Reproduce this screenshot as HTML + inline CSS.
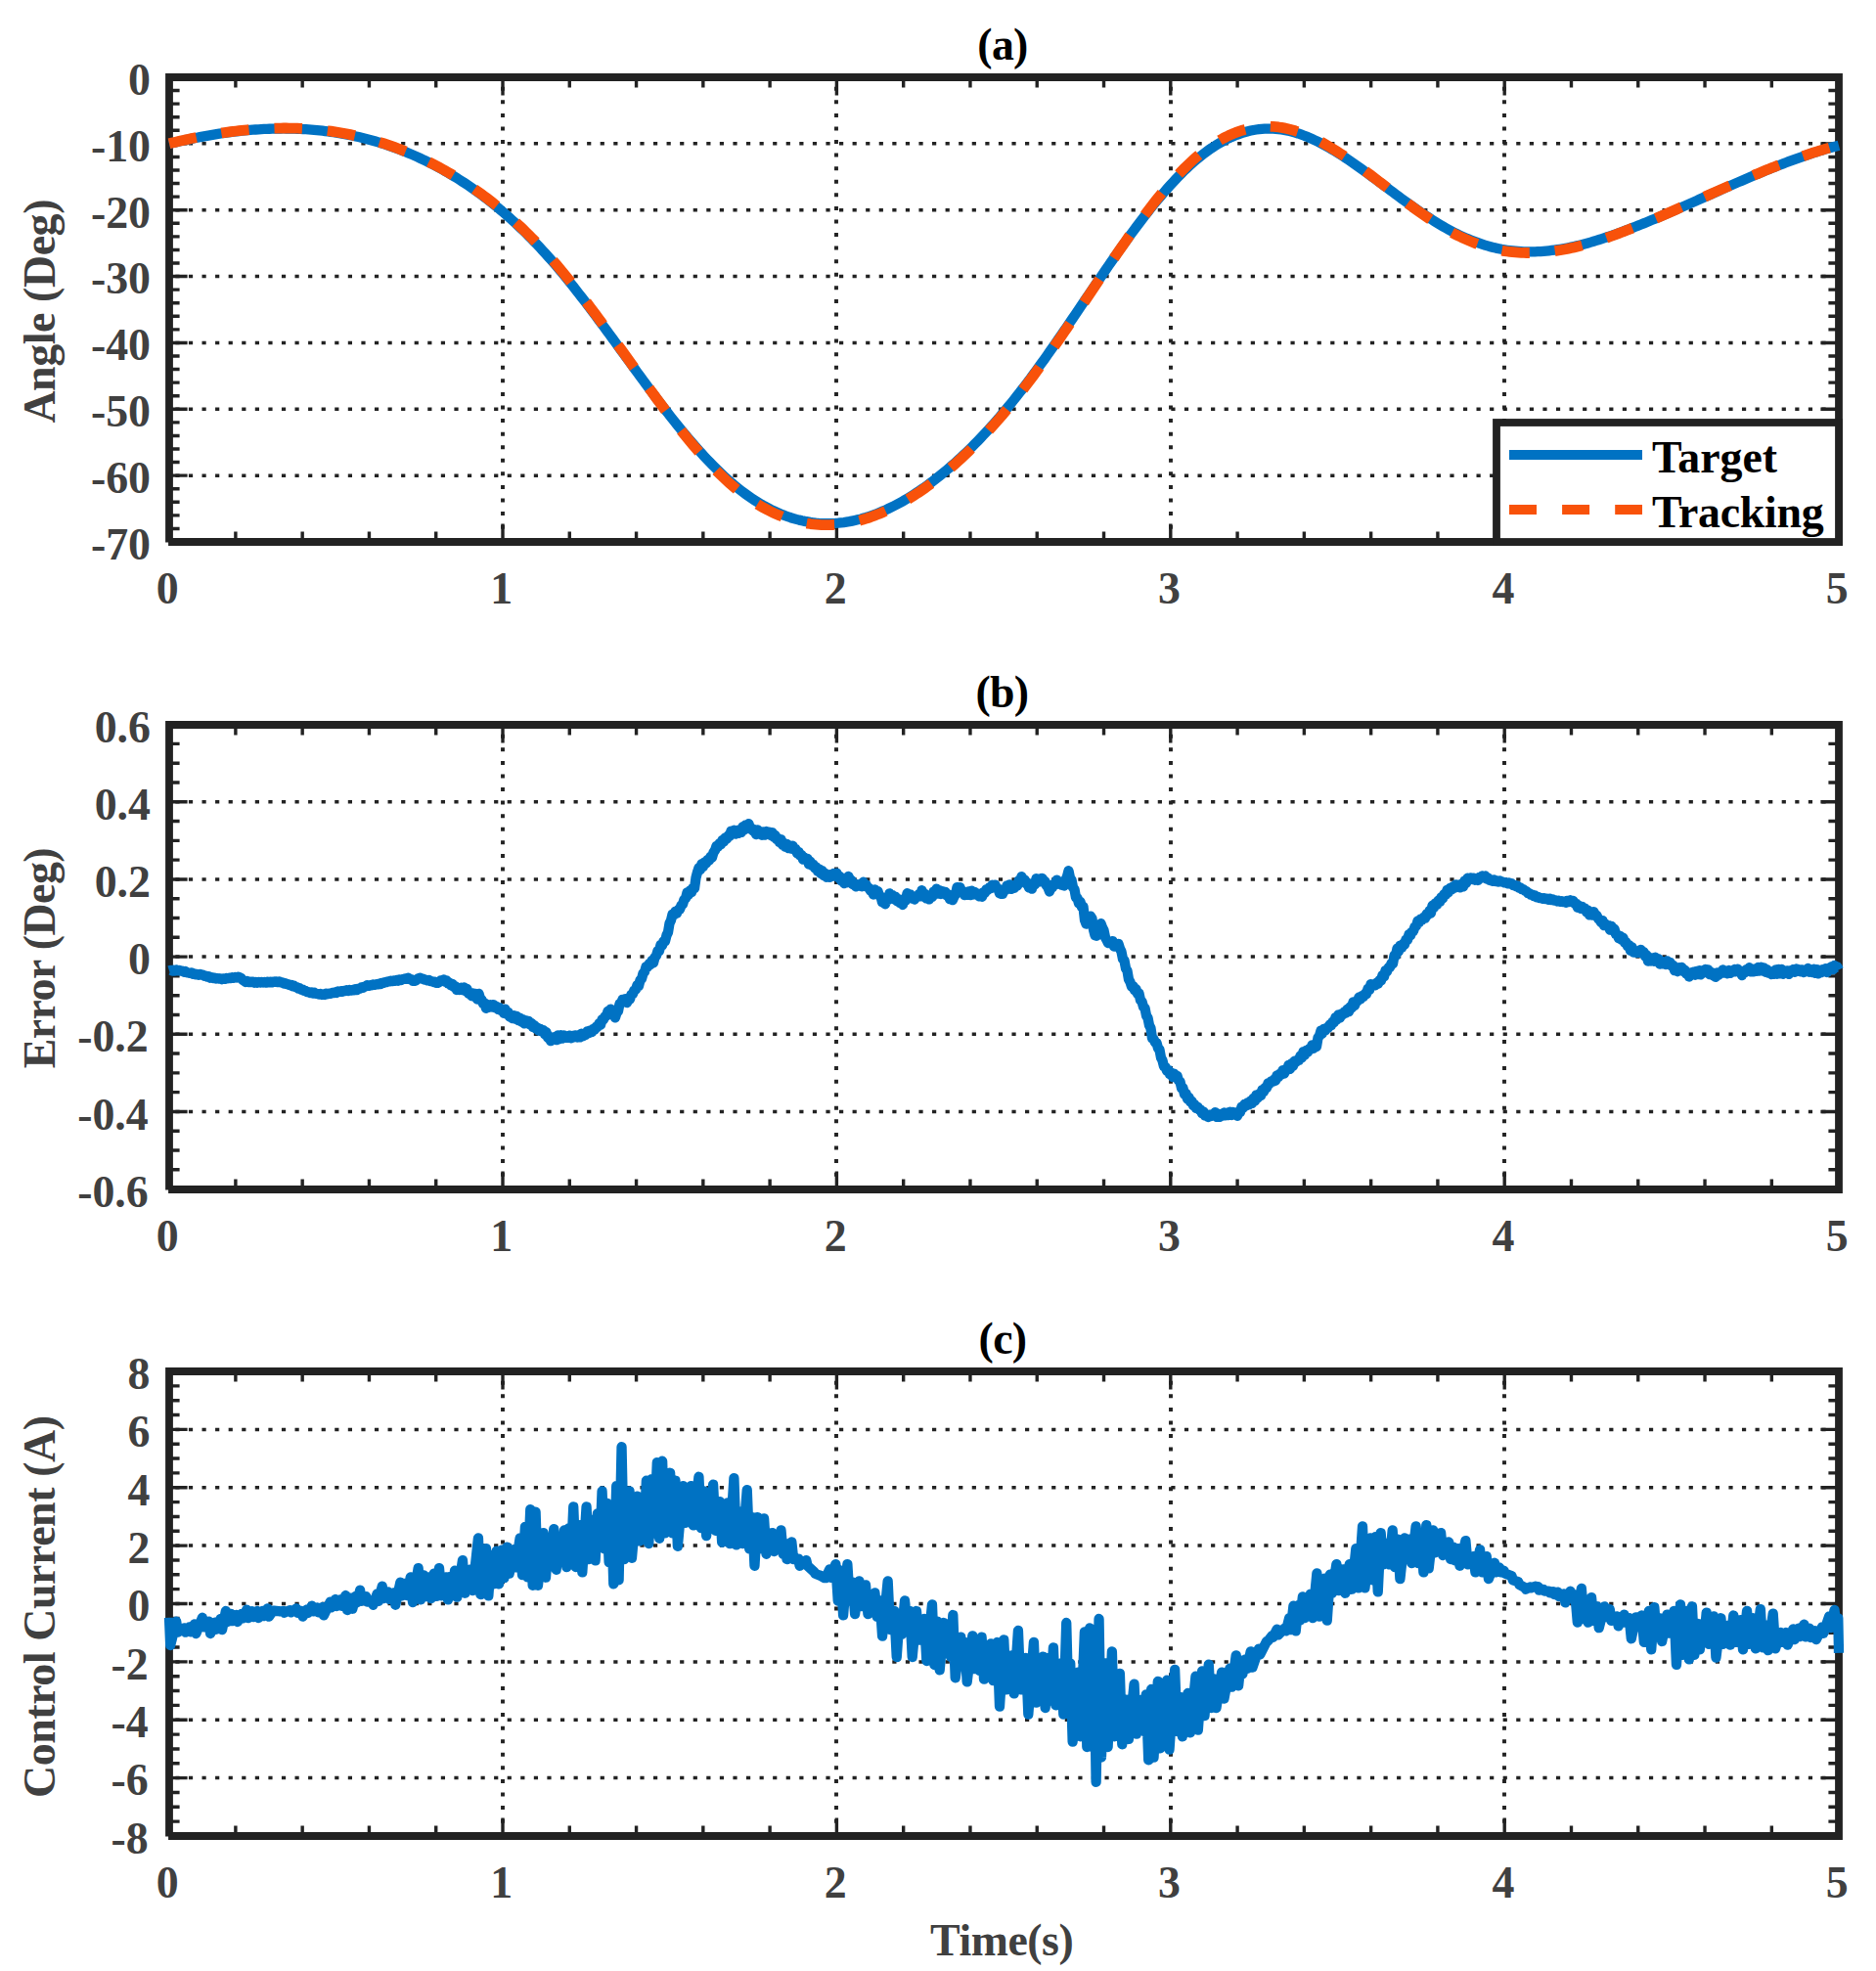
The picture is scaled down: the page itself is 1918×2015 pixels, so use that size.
<!DOCTYPE html>
<html lang="en"><head><meta charset="utf-8"><title>Tracking results</title>
<style>html,body{margin:0;padding:0;background:#fff}svg{display:block}text{font-family:'Liberation Serif', 'Times New Roman', Times, serif;font-weight:bold;font-size:45.83px}</style></head><body>
<svg width="1918" height="2015" viewBox="0 0 1918 2015">
<rect width="1918" height="2015" fill="#fff"/>
<g>
<g fill="none" stroke="#222222"><path d="M173,486.14 H1880" stroke-width="3.5" stroke-dasharray="4.2 9.373" stroke-dashoffset="7.22"/><path d="M173,418.29 H1880" stroke-width="3.5" stroke-dasharray="4.2 9.373" stroke-dashoffset="7.22"/><path d="M173,350.43 H1880" stroke-width="3.5" stroke-dasharray="4.2 9.373" stroke-dashoffset="7.22"/><path d="M173,282.57 H1880" stroke-width="3.5" stroke-dasharray="4.2 9.373" stroke-dashoffset="7.22"/><path d="M173,214.71 H1880" stroke-width="3.5" stroke-dasharray="4.2 9.373" stroke-dashoffset="7.22"/><path d="M173,146.86 H1880" stroke-width="3.5" stroke-dasharray="4.2 9.373" stroke-dashoffset="7.22"/><path d="M514,79 V554" stroke-width="3.9" stroke-dasharray="4 9.573" stroke-dashoffset="3.84"/><path d="M855,79 V554" stroke-width="3.9" stroke-dasharray="4 9.573" stroke-dashoffset="3.84"/><path d="M1197,79 V554" stroke-width="3.9" stroke-dasharray="4 9.573" stroke-dashoffset="3.84"/><path d="M1538,79 V554" stroke-width="3.9" stroke-dasharray="4 9.573" stroke-dashoffset="3.84"/></g>
<path d="M240.88,554 v-10.6 M240.88,79 v10.6 M309.16,554 v-10.6 M309.16,79 v10.6 M377.44,554 v-10.6 M377.44,79 v10.6 M445.72,554 v-10.6 M445.72,79 v10.6 M514,554 v-18.6 M514,79 v18.6 M582.28,554 v-10.6 M582.28,79 v10.6 M650.56,554 v-10.6 M650.56,79 v10.6 M718.84,554 v-10.6 M718.84,79 v10.6 M787.12,554 v-10.6 M787.12,79 v10.6 M855.4,554 v-18.6 M855.4,79 v18.6 M923.68,554 v-10.6 M923.68,79 v10.6 M991.96,554 v-10.6 M991.96,79 v10.6 M1060.24,554 v-10.6 M1060.24,79 v10.6 M1128.52,554 v-10.6 M1128.52,79 v10.6 M1196.8,554 v-18.6 M1196.8,79 v18.6 M1265.08,554 v-10.6 M1265.08,79 v10.6 M1333.36,554 v-10.6 M1333.36,79 v10.6 M1401.64,554 v-10.6 M1401.64,79 v10.6 M1469.92,554 v-10.6 M1469.92,79 v10.6 M1538.2,554 v-18.6 M1538.2,79 v18.6 M1606.48,554 v-10.6 M1606.48,79 v10.6 M1674.76,554 v-10.6 M1674.76,79 v10.6 M1743.04,554 v-10.6 M1743.04,79 v10.6 M1811.32,554 v-10.6 M1811.32,79 v10.6 M173,540.43 h10.6 M1880,540.43 h-10.6 M173,526.86 h10.6 M1880,526.86 h-10.6 M173,513.29 h10.6 M1880,513.29 h-10.6 M173,499.71 h10.6 M1880,499.71 h-10.6 M173,486.14 h18.6 M1880,486.14 h-18.6 M173,472.57 h10.6 M1880,472.57 h-10.6 M173,459 h10.6 M1880,459 h-10.6 M173,445.43 h10.6 M1880,445.43 h-10.6 M173,431.86 h10.6 M1880,431.86 h-10.6 M173,418.29 h18.6 M1880,418.29 h-18.6 M173,404.71 h10.6 M1880,404.71 h-10.6 M173,391.14 h10.6 M1880,391.14 h-10.6 M173,377.57 h10.6 M1880,377.57 h-10.6 M173,364 h10.6 M1880,364 h-10.6 M173,350.43 h18.6 M1880,350.43 h-18.6 M173,336.86 h10.6 M1880,336.86 h-10.6 M173,323.29 h10.6 M1880,323.29 h-10.6 M173,309.71 h10.6 M1880,309.71 h-10.6 M173,296.14 h10.6 M1880,296.14 h-10.6 M173,282.57 h18.6 M1880,282.57 h-18.6 M173,269 h10.6 M1880,269 h-10.6 M173,255.43 h10.6 M1880,255.43 h-10.6 M173,241.86 h10.6 M1880,241.86 h-10.6 M173,228.29 h10.6 M1880,228.29 h-10.6 M173,214.71 h18.6 M1880,214.71 h-18.6 M173,201.14 h10.6 M1880,201.14 h-10.6 M173,187.57 h10.6 M1880,187.57 h-10.6 M173,174 h10.6 M1880,174 h-10.6 M173,160.43 h10.6 M1880,160.43 h-10.6 M173,146.86 h18.6 M1880,146.86 h-18.6 M173,133.29 h10.6 M1880,133.29 h-10.6 M173,119.71 h10.6 M1880,119.71 h-10.6 M173,106.14 h10.6 M1880,106.14 h-10.6 M173,92.57 h10.6 M1880,92.57 h-10.6" fill="none" stroke="#222222" stroke-width="3.4"/>
<path d="M173,554.6 V79 H1880 V554 H172.1" fill="none" stroke="#222222" stroke-width="7.8" stroke-linejoin="miter"/>
<path d="M173,147.02 L175.85,146.33 L178.7,145.65 L181.55,144.98 L184.4,144.33 L187.25,143.69 L190.1,143.06 L192.95,142.45 L195.8,141.85 L198.65,141.27 L201.5,140.7 L204.35,140.15 L207.2,139.61 L210.05,139.08 L212.9,138.58 L215.75,138.08 L218.6,137.61 L221.45,137.15 L224.3,136.7 L227.15,136.27 L229.99,135.86 L232.84,135.47 L235.69,135.09 L238.54,134.73 L241.39,134.39 L244.24,134.06 L247.09,133.75 L249.94,133.47 L252.79,133.2 L255.64,132.94 L258.49,132.71 L261.34,132.5 L264.19,132.31 L267.04,132.13 L269.89,131.98 L272.74,131.84 L275.59,131.73 L278.44,131.63 L281.29,131.56 L284.14,131.51 L286.99,131.48 L289.84,131.47 L292.69,131.48 L295.54,131.51 L298.39,131.57 L301.24,131.65 L304.09,131.75 L306.94,131.87 L309.79,132.02 L312.64,132.18 L315.49,132.38 L318.34,132.59 L321.19,132.83 L324.04,133.1 L326.89,133.38 L329.74,133.7 L332.59,134.03 L335.44,134.39 L338.29,134.78 L341.14,135.19 L343.98,135.63 L346.83,136.09 L349.68,136.58 L352.53,137.1 L355.38,137.64 L358.23,138.21 L361.08,138.8 L363.93,139.42 L366.78,140.07 L369.63,140.75 L372.48,141.45 L375.33,142.19 L378.18,142.95 L381.03,143.74 L383.88,144.55 L386.73,145.4 L389.58,146.28 L392.43,147.18 L395.28,148.11 L398.13,149.08 L400.98,150.07 L403.83,151.1 L406.68,152.15 L409.53,153.23 L412.38,154.35 L415.23,155.5 L418.08,156.67 L420.93,157.88 L423.78,159.12 L426.63,160.4 L429.48,161.7 L432.33,163.04 L435.18,164.41 L438.03,165.81 L440.88,167.25 L443.73,168.72 L446.58,170.22 L449.43,171.76 L452.28,173.33 L455.13,174.93 L457.97,176.57 L460.82,178.25 L463.67,179.96 L466.52,181.71 L469.37,183.5 L472.22,185.32 L475.07,187.18 L477.92,189.08 L480.77,191.02 L483.62,193 L486.47,195.01 L489.32,197.07 L492.17,199.16 L495.02,201.3 L497.87,203.48 L500.72,205.69 L503.57,207.95 L506.42,210.25 L509.27,212.59 L512.12,214.98 L514.97,217.41 L517.82,219.88 L520.67,222.4 L523.52,224.96 L526.37,227.56 L529.22,230.21 L532.07,232.91 L534.92,235.65 L537.77,238.43 L540.62,241.27 L543.47,244.15 L546.32,247.08 L549.17,250.05 L552.02,253.07 L554.87,256.15 L557.72,259.27 L560.57,262.44 L563.42,265.66 L566.27,268.93 L569.12,272.25 L571.96,275.61 L574.81,279.02 L577.66,282.48 L580.51,285.97 L583.36,289.51 L586.21,293.08 L589.06,296.69 L591.91,300.33 L594.76,304 L597.61,307.7 L600.46,311.43 L603.31,315.18 L606.16,318.96 L609.01,322.76 L611.86,326.58 L614.71,330.42 L617.56,334.27 L620.41,338.14 L623.26,342.02 L626.11,345.9 L628.96,349.8 L631.81,353.7 L634.66,357.61 L637.51,361.52 L640.36,365.42 L643.21,369.33 L646.06,373.23 L648.91,377.13 L651.76,381.02 L654.61,384.9 L657.46,388.76 L660.31,392.62 L663.16,396.45 L666.01,400.27 L668.86,404.07 L671.71,407.84 L674.56,411.59 L677.41,415.32 L680.26,419.01 L683.11,422.68 L685.95,426.31 L688.8,429.91 L691.65,433.47 L694.5,436.99 L697.35,440.48 L700.2,443.91 L703.05,447.31 L705.9,450.65 L708.75,453.95 L711.6,457.2 L714.45,460.4 L717.3,463.55 L720.15,466.64 L723,469.68 L725.85,472.66 L728.7,475.58 L731.55,478.44 L734.4,481.24 L737.25,483.98 L740.1,486.65 L742.95,489.25 L745.8,491.78 L748.65,494.25 L751.5,496.64 L754.35,498.96 L757.2,501.21 L760.05,503.38 L762.9,505.48 L765.75,507.5 L768.6,509.46 L771.45,511.33 L774.3,513.14 L777.15,514.87 L780,516.54 L782.85,518.12 L785.7,519.64 L788.55,521.09 L791.4,522.46 L794.25,523.76 L797.1,524.99 L799.94,526.15 L802.79,527.24 L805.64,528.26 L808.49,529.21 L811.34,530.08 L814.19,530.89 L817.04,531.63 L819.89,532.3 L822.74,532.9 L825.59,533.42 L828.44,533.88 L831.29,534.27 L834.14,534.6 L836.99,534.85 L839.84,535.03 L842.69,535.15 L845.54,535.2 L848.39,535.18 L851.24,535.09 L854.09,534.94 L856.94,534.72 L859.79,534.43 L862.64,534.08 L865.49,533.66 L868.34,533.18 L871.19,532.63 L874.04,532.02 L876.89,531.35 L879.74,530.62 L882.59,529.82 L885.44,528.97 L888.29,528.05 L891.14,527.08 L893.99,526.05 L896.84,524.96 L899.69,523.81 L902.54,522.61 L905.39,521.35 L908.24,520.04 L911.09,518.67 L913.93,517.24 L916.78,515.77 L919.63,514.24 L922.48,512.65 L925.33,511.02 L928.18,509.33 L931.03,507.59 L933.88,505.79 L936.73,503.95 L939.58,502.06 L942.43,500.11 L945.28,498.12 L948.13,496.08 L950.98,493.99 L953.83,491.85 L956.68,489.66 L959.53,487.42 L962.38,485.14 L965.23,482.8 L968.08,480.42 L970.93,477.99 L973.78,475.51 L976.63,472.99 L979.48,470.41 L982.33,467.79 L985.18,465.12 L988.03,462.4 L990.88,459.64 L993.73,456.82 L996.58,453.96 L999.43,451.05 L1002.28,448.09 L1005.13,445.08 L1007.98,442.03 L1010.83,438.93 L1013.68,435.78 L1016.53,432.58 L1019.38,429.34 L1022.23,426.05 L1025.08,422.71 L1027.92,419.32 L1030.77,415.89 L1033.62,412.4 L1036.47,408.88 L1039.32,405.3 L1042.17,401.67 L1045.02,398 L1047.87,394.29 L1050.72,390.52 L1053.57,386.72 L1056.42,382.87 L1059.27,378.99 L1062.12,375.07 L1064.97,371.11 L1067.82,367.13 L1070.67,363.11 L1073.52,359.07 L1076.37,355 L1079.22,350.91 L1082.07,346.79 L1084.92,342.66 L1087.77,338.51 L1090.62,334.35 L1093.47,330.18 L1096.32,325.99 L1099.17,321.8 L1102.02,317.6 L1104.87,313.39 L1107.72,309.19 L1110.57,304.98 L1113.42,300.78 L1116.27,296.59 L1119.12,292.4 L1121.97,288.21 L1124.82,284.05 L1127.67,279.89 L1130.52,275.75 L1133.37,271.63 L1136.22,267.52 L1139.07,263.44 L1141.91,259.39 L1144.76,255.36 L1147.61,251.36 L1150.46,247.39 L1153.31,243.45 L1156.16,239.55 L1159.01,235.68 L1161.86,231.86 L1164.71,228.07 L1167.56,224.33 L1170.41,220.64 L1173.26,216.99 L1176.11,213.4 L1178.96,209.85 L1181.81,206.36 L1184.66,202.93 L1187.51,199.56 L1190.36,196.24 L1193.21,192.99 L1196.06,189.81 L1198.91,186.69 L1201.76,183.64 L1204.61,180.67 L1207.46,177.77 L1210.31,174.94 L1213.16,172.19 L1216.01,169.53 L1218.86,166.94 L1221.71,164.44 L1224.56,162.03 L1227.41,159.71 L1230.26,157.47 L1233.11,155.33 L1235.96,153.28 L1238.81,151.32 L1241.66,149.46 L1244.51,147.68 L1247.36,146 L1250.21,144.41 L1253.06,142.91 L1255.9,141.5 L1258.75,140.18 L1261.6,138.96 L1264.45,137.83 L1267.3,136.79 L1270.15,135.85 L1273,135 L1275.85,134.24 L1278.7,133.57 L1281.55,133 L1284.4,132.52 L1287.25,132.14 L1290.1,131.84 L1292.95,131.64 L1295.8,131.54 L1298.65,131.53 L1301.5,131.61 L1304.35,131.79 L1307.2,132.06 L1310.05,132.43 L1312.9,132.89 L1315.75,133.44 L1318.6,134.07 L1321.45,134.8 L1324.3,135.6 L1327.15,136.49 L1330,137.45 L1332.85,138.49 L1335.7,139.6 L1338.55,140.79 L1341.4,142.04 L1344.25,143.35 L1347.1,144.73 L1349.95,146.17 L1352.8,147.66 L1355.65,149.21 L1358.5,150.82 L1361.35,152.47 L1364.2,154.17 L1367.05,155.92 L1369.89,157.71 L1372.74,159.54 L1375.59,161.41 L1378.44,163.31 L1381.29,165.24 L1384.14,167.21 L1386.99,169.2 L1389.84,171.22 L1392.69,173.26 L1395.54,175.32 L1398.39,177.39 L1401.24,179.49 L1404.09,181.59 L1406.94,183.71 L1409.79,185.83 L1412.64,187.95 L1415.49,190.08 L1418.34,192.21 L1421.19,194.34 L1424.04,196.46 L1426.89,198.58 L1429.74,200.68 L1432.59,202.78 L1435.44,204.86 L1438.29,206.93 L1441.14,208.97 L1443.99,211 L1446.84,213.01 L1449.69,215 L1452.54,216.96 L1455.39,218.89 L1458.24,220.79 L1461.09,222.66 L1463.94,224.49 L1466.79,226.29 L1469.64,228.05 L1472.49,229.78 L1475.34,231.45 L1478.19,233.09 L1481.04,234.67 L1483.88,236.21 L1486.73,237.7 L1489.58,239.13 L1492.43,240.52 L1495.28,241.85 L1498.13,243.13 L1500.98,244.35 L1503.83,245.52 L1506.68,246.64 L1509.53,247.7 L1512.38,248.71 L1515.23,249.67 L1518.08,250.57 L1520.93,251.41 L1523.78,252.2 L1526.63,252.93 L1529.48,253.61 L1532.33,254.22 L1535.18,254.79 L1538.03,255.29 L1540.88,255.74 L1543.73,256.13 L1546.58,256.47 L1549.43,256.75 L1552.28,256.98 L1555.13,257.16 L1557.98,257.29 L1560.83,257.37 L1563.68,257.4 L1566.53,257.38 L1569.38,257.31 L1572.23,257.2 L1575.08,257.04 L1577.93,256.84 L1580.78,256.6 L1583.63,256.31 L1586.48,255.98 L1589.33,255.61 L1592.18,255.21 L1595.03,254.76 L1597.87,254.28 L1600.72,253.76 L1603.57,253.21 L1606.42,252.62 L1609.27,251.99 L1612.12,251.34 L1614.97,250.65 L1617.82,249.93 L1620.67,249.19 L1623.52,248.41 L1626.37,247.61 L1629.22,246.78 L1632.07,245.92 L1634.92,245.04 L1637.77,244.14 L1640.62,243.21 L1643.47,242.26 L1646.32,241.29 L1649.17,240.3 L1652.02,239.29 L1654.87,238.26 L1657.72,237.22 L1660.57,236.16 L1663.42,235.09 L1666.27,234 L1669.12,232.89 L1671.97,231.78 L1674.82,230.65 L1677.67,229.51 L1680.52,228.36 L1683.37,227.2 L1686.22,226.03 L1689.07,224.86 L1691.92,223.67 L1694.77,222.47 L1697.62,221.27 L1700.47,220.05 L1703.32,218.83 L1706.17,217.61 L1709.02,216.38 L1711.86,215.14 L1714.71,213.9 L1717.56,212.65 L1720.41,211.39 L1723.26,210.14 L1726.11,208.88 L1728.96,207.62 L1731.81,206.35 L1734.66,205.08 L1737.51,203.81 L1740.36,202.54 L1743.21,201.27 L1746.06,200 L1748.91,198.73 L1751.76,197.46 L1754.61,196.2 L1757.46,194.93 L1760.31,193.66 L1763.16,192.4 L1766.01,191.14 L1768.86,189.89 L1771.71,188.64 L1774.56,187.39 L1777.41,186.15 L1780.26,184.91 L1783.11,183.68 L1785.96,182.46 L1788.81,181.24 L1791.66,180.03 L1794.51,178.83 L1797.36,177.64 L1800.21,176.45 L1803.06,175.28 L1805.91,174.11 L1808.76,172.95 L1811.61,171.81 L1814.46,170.67 L1817.31,169.55 L1820.16,168.44 L1823.01,167.34 L1825.85,166.26 L1828.7,165.18 L1831.55,164.13 L1834.4,163.08 L1837.25,162.05 L1840.1,161.04 L1842.95,160.04 L1845.8,159.06 L1848.65,158.09 L1851.5,157.14 L1854.35,156.21 L1857.2,155.3 L1860.05,154.41 L1862.9,153.53 L1865.75,152.67 L1868.6,151.84 L1871.45,151.02 L1874.3,150.23 L1877.15,149.45 L1880,148.7" fill="none" stroke="#0072C3" stroke-width="10.3" stroke-linejoin="round"/>
<path d="M173,146.78 L175.85,146.09 L178.7,145.41 L181.55,144.74 L184.4,144.08 L187.25,143.43 L190.1,142.8 L192.95,142.18 L195.8,141.57 L198.65,140.98 L201.5,140.4 L204.35,139.84 L207.2,139.29 L210.05,138.75 L212.9,138.23 L215.75,137.73 L218.6,137.25 L221.45,136.78 L224.3,136.33 L227.15,135.9 L229.99,135.49 L232.84,135.1 L235.69,134.72 L238.54,134.35 L241.39,134.01 L244.24,133.68 L247.09,133.36 L249.94,133.06 L252.79,132.78 L255.64,132.52 L258.49,132.28 L261.34,132.06 L264.19,131.87 L267.04,131.69 L269.89,131.54 L272.74,131.41 L275.59,131.29 L278.44,131.2 L281.29,131.12 L284.14,131.06 L286.99,131.03 L289.84,131.01 L292.69,131.01 L295.54,131.03 L298.39,131.07 L301.24,131.13 L304.09,131.21 L306.94,131.31 L309.79,131.44 L312.64,131.6 L315.49,131.77 L318.34,131.98 L321.19,132.21 L324.04,132.46 L326.89,132.75 L329.74,133.06 L332.59,133.39 L335.44,133.76 L338.29,134.15 L341.14,134.57 L343.98,135.01 L346.83,135.48 L349.68,135.98 L352.53,136.5 L355.38,137.05 L358.23,137.63 L361.08,138.23 L363.93,138.87 L366.78,139.53 L369.63,140.22 L372.48,140.93 L375.33,141.68 L378.18,142.45 L381.03,143.25 L383.88,144.08 L386.73,144.93 L389.58,145.82 L392.43,146.73 L395.28,147.67 L398.13,148.65 L400.98,149.65 L403.83,150.68 L406.68,151.75 L409.53,152.83 L412.38,153.95 L415.23,155.1 L418.08,156.28 L420.93,157.5 L423.78,158.74 L426.63,160.01 L429.48,161.31 L432.33,162.64 L435.18,164 L438.03,165.4 L440.88,166.84 L443.73,168.3 L446.58,169.8 L449.43,171.32 L452.28,172.88 L455.13,174.48 L457.97,176.1 L460.82,177.77 L463.67,179.47 L466.52,181.2 L469.37,182.96 L472.22,184.76 L475.07,186.6 L477.92,188.48 L480.77,190.39 L483.62,192.34 L486.47,194.32 L489.32,196.34 L492.17,198.41 L495.02,200.52 L497.87,202.67 L500.72,204.86 L503.57,207.09 L506.42,209.37 L509.27,211.69 L512.12,214.06 L514.97,216.46 L517.82,218.91 L520.67,221.4 L523.52,223.93 L526.37,226.52 L529.22,229.14 L532.07,231.81 L534.92,234.53 L537.77,237.29 L540.62,240.1 L543.47,242.96 L546.32,245.86 L549.17,248.8 L552.02,251.79 L554.87,254.83 L557.72,257.93 L560.57,261.08 L563.42,264.28 L566.27,267.53 L569.12,270.84 L571.96,274.2 L574.81,277.61 L577.66,281.07 L580.51,284.57 L583.36,288.12 L586.21,291.69 L589.06,295.31 L591.91,298.96 L594.76,302.65 L597.61,306.37 L600.46,310.12 L603.31,313.9 L606.16,317.71 L609.01,321.55 L611.86,325.42 L614.71,329.29 L617.56,333.17 L620.41,337.08 L623.26,341 L626.11,344.94 L628.96,348.88 L631.81,352.82 L634.66,356.76 L637.51,360.71 L640.36,364.67 L643.21,368.65 L646.06,372.62 L648.91,376.58 L651.76,380.54 L654.61,384.49 L657.46,388.43 L660.31,392.37 L663.16,396.28 L666.01,400.18 L668.86,404.06 L671.71,407.92 L674.56,411.77 L677.41,415.59 L680.26,419.39 L683.11,423.15 L685.95,426.88 L688.8,430.57 L691.65,434.23 L694.5,437.85 L697.35,441.42 L700.2,444.93 L703.05,448.42 L705.9,451.85 L708.75,455.24 L711.6,458.58 L714.45,461.85 L717.3,465.07 L720.15,468.25 L723,471.37 L725.85,474.42 L728.7,477.4 L731.55,480.32 L734.4,483.17 L737.25,485.96 L740.1,488.68 L742.95,491.33 L745.8,493.9 L748.65,496.39 L751.5,498.82 L754.35,501.17 L757.2,503.43 L760.05,505.61 L762.9,507.71 L765.75,509.73 L768.6,511.68 L771.45,513.56 L774.3,515.36 L777.15,517.08 L780,518.72 L782.85,520.29 L785.7,521.79 L788.55,523.21 L791.4,524.56 L794.25,525.83 L797.1,527.04 L799.94,528.17 L802.79,529.22 L805.64,530.2 L808.49,531.12 L811.34,531.96 L814.19,532.73 L817.04,533.43 L819.89,534.07 L822.74,534.62 L825.59,535.11 L828.44,535.53 L831.29,535.88 L834.14,536.16 L836.99,536.38 L839.84,536.54 L842.69,536.64 L845.54,536.66 L848.39,536.62 L851.24,536.51 L854.09,536.34 L856.94,536.11 L859.79,535.81 L862.64,535.44 L865.49,535 L868.34,534.5 L871.19,533.94 L874.04,533.32 L876.89,532.63 L879.74,531.88 L882.59,531.06 L885.44,530.19 L888.29,529.25 L891.14,528.25 L893.99,527.18 L896.84,526.07 L899.69,524.9 L902.54,523.68 L905.39,522.41 L908.24,521.07 L911.09,519.68 L913.93,518.25 L916.78,516.79 L919.63,515.27 L922.48,513.68 L925.33,512.04 L928.18,510.36 L931.03,508.63 L933.88,506.85 L936.73,505.02 L939.58,503.13 L942.43,501.19 L945.28,499.2 L948.13,497.17 L950.98,495.09 L953.83,492.96 L956.68,490.76 L959.53,488.52 L962.38,486.23 L965.23,483.91 L968.08,481.54 L970.93,479.11 L973.78,476.63 L976.63,474.1 L979.48,471.53 L982.33,468.91 L985.18,466.25 L988.03,463.54 L990.88,460.77 L993.73,457.95 L996.58,455.08 L999.43,452.18 L1002.28,449.23 L1005.13,446.24 L1007.98,443.2 L1010.83,440.1 L1013.68,436.95 L1016.53,433.76 L1019.38,430.53 L1022.23,427.25 L1025.08,423.91 L1027.92,420.53 L1030.77,417.1 L1033.62,413.64 L1036.47,410.13 L1039.32,406.57 L1042.17,402.95 L1045.02,399.28 L1047.87,395.57 L1050.72,391.83 L1053.57,388.03 L1056.42,384.19 L1059.27,380.29 L1062.12,376.35 L1064.97,372.39 L1067.82,368.42 L1070.67,364.41 L1073.52,360.36 L1076.37,356.28 L1079.22,352.19 L1082.07,348.09 L1084.92,343.96 L1087.77,339.81 L1090.62,335.62 L1093.47,331.4 L1096.32,327.16 L1099.17,322.89 L1102.02,318.62 L1104.87,314.34 L1107.72,310.01 L1110.57,305.72 L1113.42,301.45 L1116.27,297.2 L1119.12,292.94 L1121.97,288.7 L1124.82,284.49 L1127.67,280.29 L1130.52,276.1 L1133.37,271.95 L1136.22,267.8 L1139.07,263.65 L1141.91,259.5 L1144.76,255.38 L1147.61,251.29 L1150.46,247.23 L1153.31,243.19 L1156.16,239.17 L1159.01,235.19 L1161.86,231.24 L1164.71,227.33 L1167.56,223.47 L1170.41,219.66 L1173.26,215.9 L1176.11,212.17 L1178.96,208.49 L1181.81,204.87 L1184.66,201.32 L1187.51,197.83 L1190.36,194.43 L1193.21,191.1 L1196.06,187.83 L1198.91,184.63 L1201.76,181.51 L1204.61,178.46 L1207.46,175.5 L1210.31,172.61 L1213.16,169.79 L1216.01,167.06 L1218.86,164.4 L1221.71,161.85 L1224.56,159.39 L1227.41,157.03 L1230.26,154.77 L1233.11,152.6 L1235.96,150.54 L1238.81,148.56 L1241.66,146.69 L1244.51,144.92 L1247.36,143.24 L1250.21,141.65 L1253.06,140.15 L1255.9,138.75 L1258.75,137.45 L1261.6,136.24 L1264.45,135.13 L1267.3,134.12 L1270.15,133.2 L1273,132.38 L1275.85,131.66 L1278.7,131.04 L1281.55,130.51 L1284.4,130.07 L1287.25,129.73 L1290.1,129.48 L1292.95,129.33 L1295.8,129.27 L1298.65,129.31 L1301.5,129.44 L1304.35,129.66 L1307.2,129.98 L1310.05,130.39 L1312.9,130.89 L1315.75,131.48 L1318.6,132.15 L1321.45,132.92 L1324.3,133.77 L1327.15,134.69 L1330,135.7 L1332.85,136.78 L1335.7,137.94 L1338.55,139.18 L1341.4,140.48 L1344.25,141.85 L1347.1,143.29 L1349.95,144.78 L1352.8,146.33 L1355.65,147.94 L1358.5,149.6 L1361.35,151.31 L1364.2,153.05 L1367.05,154.84 L1369.89,156.67 L1372.74,158.55 L1375.59,160.46 L1378.44,162.4 L1381.29,164.38 L1384.14,166.38 L1386.99,168.42 L1389.84,170.49 L1392.69,172.58 L1395.54,174.68 L1398.39,176.8 L1401.24,178.93 L1404.09,181.09 L1406.94,183.25 L1409.79,185.43 L1412.64,187.61 L1415.49,189.81 L1418.34,192 L1421.19,194.21 L1424.04,196.41 L1426.89,198.6 L1429.74,200.78 L1432.59,202.95 L1435.44,205.1 L1438.29,207.25 L1441.14,209.36 L1443.99,211.45 L1446.84,213.52 L1449.69,215.56 L1452.54,217.58 L1455.39,219.57 L1458.24,221.53 L1461.09,223.45 L1463.94,225.34 L1466.79,227.19 L1469.64,229 L1472.49,230.78 L1475.34,232.51 L1478.19,234.18 L1481.04,235.81 L1483.88,237.38 L1486.73,238.9 L1489.58,240.37 L1492.43,241.78 L1495.28,243.14 L1498.13,244.43 L1500.98,245.67 L1503.83,246.86 L1506.68,248 L1509.53,249.07 L1512.38,250.09 L1515.23,251.04 L1518.08,251.94 L1520.93,252.78 L1523.78,253.56 L1526.63,254.28 L1529.48,254.95 L1532.33,255.55 L1535.18,256.1 L1538.03,256.6 L1540.88,257.03 L1543.73,257.41 L1546.58,257.73 L1549.43,257.99 L1552.28,258.2 L1555.13,258.36 L1557.98,258.46 L1560.83,258.51 L1563.68,258.52 L1566.53,258.48 L1569.38,258.39 L1572.23,258.26 L1575.08,258.09 L1577.93,257.88 L1580.78,257.62 L1583.63,257.32 L1586.48,256.99 L1589.33,256.61 L1592.18,256.2 L1595.03,255.75 L1597.87,255.26 L1600.72,254.73 L1603.57,254.16 L1606.42,253.56 L1609.27,252.92 L1612.12,252.24 L1614.97,251.54 L1617.82,250.8 L1620.67,250.02 L1623.52,249.21 L1626.37,248.37 L1629.22,247.51 L1632.07,246.62 L1634.92,245.71 L1637.77,244.77 L1640.62,243.8 L1643.47,242.81 L1646.32,241.79 L1649.17,240.76 L1652.02,239.71 L1654.87,238.64 L1657.72,237.55 L1660.57,236.44 L1663.42,235.32 L1666.27,234.2 L1669.12,233.06 L1671.97,231.91 L1674.82,230.74 L1677.67,229.57 L1680.52,228.4 L1683.37,227.22 L1686.22,226.04 L1689.07,224.83 L1691.92,223.62 L1694.77,222.41 L1697.62,221.19 L1700.47,219.96 L1703.32,218.72 L1706.17,217.47 L1709.02,216.22 L1711.86,214.96 L1714.71,213.7 L1717.56,212.43 L1720.41,211.16 L1723.26,209.89 L1726.11,208.62 L1728.96,207.35 L1731.81,206.08 L1734.66,204.81 L1737.51,203.54 L1740.36,202.27 L1743.21,201 L1746.06,199.73 L1748.91,198.46 L1751.76,197.19 L1754.61,195.93 L1757.46,194.66 L1760.31,193.39 L1763.16,192.14 L1766.01,190.88 L1768.86,189.63 L1771.71,188.38 L1774.56,187.14 L1777.41,185.9 L1780.26,184.67 L1783.11,183.44 L1785.96,182.22 L1788.81,181.01 L1791.66,179.8 L1794.51,178.6 L1797.36,177.41 L1800.21,176.22 L1803.06,175.04 L1805.91,173.87 L1808.76,172.71 L1811.61,171.56 L1814.46,170.42 L1817.31,169.29 L1820.16,168.18 L1823.01,167.09 L1825.85,166.01 L1828.7,164.94 L1831.55,163.88 L1834.4,162.84 L1837.25,161.81 L1840.1,160.8 L1842.95,159.8 L1845.8,158.82 L1848.65,157.85 L1851.5,156.9 L1854.35,155.97 L1857.2,155.06 L1860.05,154.17 L1862.9,153.3 L1865.75,152.45 L1868.6,151.62 L1871.45,150.81 L1874.3,150.02 L1877.15,149.25 L1880,148.5" fill="none" stroke="#F8520A" stroke-width="10.8" stroke-linejoin="round" stroke-dasharray="28.45 25.97"/>
<g fill="#404040"><text x="154" y="571.8" text-anchor="end">-70</text><text x="154" y="503.94" text-anchor="end">-60</text><text x="154" y="436.09" text-anchor="end">-50</text><text x="154" y="368.23" text-anchor="end">-40</text><text x="154" y="300.37" text-anchor="end">-30</text><text x="154" y="232.51" text-anchor="end">-20</text><text x="154" y="164.66" text-anchor="end">-10</text><text x="154" y="96.8" text-anchor="end">0</text><text x="171.3" y="617.2" text-anchor="middle">0</text><text x="512.7" y="617.2" text-anchor="middle">1</text><text x="854.1" y="617.2" text-anchor="middle">2</text><text x="1195.5" y="617.2" text-anchor="middle">3</text><text x="1536.9" y="617.2" text-anchor="middle">4</text><text x="1878.3" y="617.2" text-anchor="middle">5</text></g>
<text transform="translate(55.8,318.3) rotate(-90)" text-anchor="middle" fill="#404040" letter-spacing="-0.39">Angle (Deg)</text>
<text x="1025" y="60.8" text-anchor="middle" fill="#000" letter-spacing="-0.7">(a)</text>
</g>
<g>
<g fill="none" stroke="#222222"><path d="M173,1136.43 H1880" stroke-width="3.5" stroke-dasharray="4.2 9.373" stroke-dashoffset="7.22"/><path d="M173,1057.27 H1880" stroke-width="3.5" stroke-dasharray="4.2 9.373" stroke-dashoffset="7.22"/><path d="M173,978.1 H1880" stroke-width="3.5" stroke-dasharray="4.2 9.373" stroke-dashoffset="7.22"/><path d="M173,898.93 H1880" stroke-width="3.5" stroke-dasharray="4.2 9.373" stroke-dashoffset="7.22"/><path d="M173,819.77 H1880" stroke-width="3.5" stroke-dasharray="4.2 9.373" stroke-dashoffset="7.22"/><path d="M514,741 V1216" stroke-width="3.9" stroke-dasharray="4 9.573" stroke-dashoffset="3.84"/><path d="M855,741 V1216" stroke-width="3.9" stroke-dasharray="4 9.573" stroke-dashoffset="3.84"/><path d="M1197,741 V1216" stroke-width="3.9" stroke-dasharray="4 9.573" stroke-dashoffset="3.84"/><path d="M1538,741 V1216" stroke-width="3.9" stroke-dasharray="4 9.573" stroke-dashoffset="3.84"/></g>
<path d="M240.88,1216 v-10.6 M240.88,741 v10.6 M309.16,1216 v-10.6 M309.16,741 v10.6 M377.44,1216 v-10.6 M377.44,741 v10.6 M445.72,1216 v-10.6 M445.72,741 v10.6 M514,1216 v-18.6 M514,741 v18.6 M582.28,1216 v-10.6 M582.28,741 v10.6 M650.56,1216 v-10.6 M650.56,741 v10.6 M718.84,1216 v-10.6 M718.84,741 v10.6 M787.12,1216 v-10.6 M787.12,741 v10.6 M855.4,1216 v-18.6 M855.4,741 v18.6 M923.68,1216 v-10.6 M923.68,741 v10.6 M991.96,1216 v-10.6 M991.96,741 v10.6 M1060.24,1216 v-10.6 M1060.24,741 v10.6 M1128.52,1216 v-10.6 M1128.52,741 v10.6 M1196.8,1216 v-18.6 M1196.8,741 v18.6 M1265.08,1216 v-10.6 M1265.08,741 v10.6 M1333.36,1216 v-10.6 M1333.36,741 v10.6 M1401.64,1216 v-10.6 M1401.64,741 v10.6 M1469.92,1216 v-10.6 M1469.92,741 v10.6 M1538.2,1216 v-18.6 M1538.2,741 v18.6 M1606.48,1216 v-10.6 M1606.48,741 v10.6 M1674.76,1216 v-10.6 M1674.76,741 v10.6 M1743.04,1216 v-10.6 M1743.04,741 v10.6 M1811.32,1216 v-10.6 M1811.32,741 v10.6 M173,1195.81 h10.6 M1880,1195.81 h-10.6 M173,1176.02 h10.6 M1880,1176.02 h-10.6 M173,1156.22 h10.6 M1880,1156.22 h-10.6 M173,1136.43 h18.6 M1880,1136.43 h-18.6 M173,1116.64 h10.6 M1880,1116.64 h-10.6 M173,1096.85 h10.6 M1880,1096.85 h-10.6 M173,1077.06 h10.6 M1880,1077.06 h-10.6 M173,1057.27 h18.6 M1880,1057.27 h-18.6 M173,1037.47 h10.6 M1880,1037.47 h-10.6 M173,1017.68 h10.6 M1880,1017.68 h-10.6 M173,997.89 h10.6 M1880,997.89 h-10.6 M173,978.1 h18.6 M1880,978.1 h-18.6 M173,958.31 h10.6 M1880,958.31 h-10.6 M173,938.52 h10.6 M1880,938.52 h-10.6 M173,918.73 h10.6 M1880,918.73 h-10.6 M173,898.93 h18.6 M1880,898.93 h-18.6 M173,879.14 h10.6 M1880,879.14 h-10.6 M173,859.35 h10.6 M1880,859.35 h-10.6 M173,839.56 h10.6 M1880,839.56 h-10.6 M173,819.77 h18.6 M1880,819.77 h-18.6 M173,799.98 h10.6 M1880,799.98 h-10.6 M173,780.18 h10.6 M1880,780.18 h-10.6 M173,760.39 h10.6 M1880,760.39 h-10.6" fill="none" stroke="#222222" stroke-width="3.4"/>
<path d="M173,1216.6 V741 H1880 V1216 H172.1" fill="none" stroke="#222222" stroke-width="7.8" stroke-linejoin="miter"/>
<path d="M173,992.31 L174.5,991.83 L176,992.45 L177.5,991.62 L179,992.55 L180.5,991.51 L182,992.32 L183.5,992.01 L185,992.69 L186.5,992.57 L188,993.69 L189.5,992.95 L191,994.43 L192.5,994.31 L194,994.83 L195.5,994.39 L197,995.76 L198.5,995.34 L200,996.42 L201.5,995.93 L203,996.72 L204.5,995.84 L206,996.67 L207.5,996.7 L209,997.75 L210.5,997.7 L212,998.68 L213.5,998.18 L215,999.77 L216.5,999.22 L218,1000.16 L219.5,999.64 L221,1000.54 L222.5,1000.19 L224,1000.71 L225.5,1000.38 L227,1001.21 L228.5,1000.3 L230,1000.74 L231.5,1000.02 L233,1000.37 L234.5,999.72 L236,1000.08 L237.5,999.16 L239,999.86 L240.5,998.99 L242,999.64 L243.5,998.73 L245,999.18 L246.5,1000.02 L248,1001.89 L249.5,1002.61 L251,1003.92 L252.5,1003.09 L254,1004.19 L255.5,1003.77 L257,1004.11 L258.5,1003.58 L260,1004.7 L261.5,1003.96 L263,1004.71 L264.5,1003.98 L266,1004.48 L267.5,1003.99 L269,1004.56 L270.5,1003.9 L272,1004.62 L273.5,1003.67 L275,1004.34 L276.5,1003.57 L278,1004.41 L279.5,1003.61 L281,1003.89 L282.5,1003.33 L284,1004.06 L285.5,1003.33 L287,1004.28 L288.5,1004.36 L290,1005.5 L291.5,1005.22 L293,1006.17 L294.5,1006.22 L296,1007.15 L297.5,1006.8 L299,1008.23 L300.5,1007.79 L302,1009.06 L303.5,1009.22 L305,1010.68 L306.5,1010.2 L308,1011.77 L309.5,1011.58 L311,1012.95 L312.5,1013.01 L314,1014.14 L315.5,1014.22 L317,1015.03 L318.5,1014.48 L320,1015.47 L321.5,1014.8 L323,1015.9 L324.5,1015.91 L326,1016.6 L327.5,1016.03 L329,1016.98 L330.5,1016.44 L332,1016.95 L333.5,1015.75 L335,1016.24 L336.5,1015.71 L338,1015.94 L339.5,1015.02 L341,1015.17 L342.5,1014.33 L344,1014.96 L345.5,1013.43 L347,1013.87 L348.5,1013.27 L350,1013.81 L351.5,1012.9 L353,1013.07 L354.5,1012.17 L356,1013.02 L357.5,1012.03 L359,1012.59 L360.5,1012.02 L362,1012.34 L363.5,1011.18 L365,1012 L366.5,1010.77 L368,1010.8 L369.5,1009.37 L371,1009.84 L372.5,1008.66 L374,1008.29 L375.5,1007.14 L377,1007.85 L378.5,1007.09 L380,1007.24 L381.5,1006.36 L383,1006.8 L384.5,1006.27 L386,1006.35 L387.5,1005.56 L389,1006.09 L390.5,1004.92 L392,1004.9 L393.5,1004.06 L395,1004.16 L396.5,1003.36 L398,1003.44 L399.5,1002.78 L401,1003.18 L402.5,1002.47 L404,1002.93 L405.5,1001.99 L407,1002.68 L408.5,1001.41 L410,1002.15 L411.5,1001.04 L413,1000.97 L414.5,1000.44 L416,1000.85 L417.5,999.75 L419,1001.14 L420.5,1001.11 L422,1002.87 L423.5,1002.96 L425,1002.58 L426.5,1001.11 L428,1000.15 L429.5,999.76 L431,1000.65 L432.5,1000.61 L434,1001.51 L435.5,1001.54 L437,1002.27 L438.5,1002 L440,1003.09 L441.5,1003.04 L443,1003.98 L444.5,1003.77 L446,1004.79 L447.5,1004.84 L449,1004.08 L450.5,1002.46 L452,1002.28 L453.5,1001.49 L455,1003.69 L456.5,1002.41 L458,1005.21 L459.5,1004.75 L461,1007.31 L462.5,1005.87 L464,1008.99 L465.5,1008.37 L467,1012.07 L468.5,1010.94 L470,1012.03 L471.5,1009.74 L473,1012.12 L474.5,1009.49 L476,1013.17 L477.5,1010.97 L479,1015.67 L480.5,1015.01 L482,1018 L483.5,1015.37 L485,1018.89 L486.5,1016.01 L488,1021.62 L489.5,1015.83 L491,1020.77 L492.5,1022.22 L494,1026.02 L495.5,1025.41 L497,1030.88 L498.5,1027.03 L500,1029.81 L501.5,1027.18 L503,1029.47 L504.5,1027.13 L506,1030.26 L507.5,1028.76 L509,1031.83 L510.5,1030.16 L512,1032.88 L513.5,1031.82 L515,1035.73 L516.5,1031.69 L518,1036.67 L519.5,1034.82 L521,1039.3 L522.5,1037.85 L524,1041.14 L525.5,1038.25 L527,1041.83 L528.5,1038.96 L530,1043.17 L531.5,1040.63 L533,1044.4 L534.5,1042.1 L536,1046.4 L537.5,1043.18 L539,1046 L540.5,1043.92 L542,1047.61 L543.5,1046.1 L545,1050.17 L546.5,1048.41 L548,1051.62 L549.5,1050.48 L551,1053.78 L552.5,1051.94 L554,1054.35 L555.5,1053.04 L557,1057.41 L558.5,1055.25 L560,1060.77 L561.5,1059.49 L563,1064.12 L564.5,1062.76 L566,1062.69 L567.5,1059.88 L569,1063.2 L570.5,1058.44 L572,1062.27 L573.5,1058.28 L575,1061.49 L576.5,1058.46 L578,1060.95 L579.5,1060.83 L581,1060.77 L582.5,1058.59 L584,1061.26 L585.5,1059.02 L587,1060.39 L588.5,1058.47 L590,1060.53 L591.5,1058.15 L593,1060.45 L594.5,1056.74 L596,1059.36 L597.5,1057.32 L599,1057.68 L600.5,1054.33 L602,1056.17 L603.5,1053.32 L605,1055.11 L606.5,1052.12 L608,1052.61 L609.5,1049.68 L611,1049.82 L612.5,1046.36 L614,1047.78 L615.5,1042.29 L617,1042.38 L618.5,1039.25 L620,1038.57 L621.5,1033.73 L623,1036.78 L624.5,1031.62 L626,1036.55 L627.5,1036.26 L629,1040.39 L630.5,1035.28 L632,1033.83 L633.5,1026.11 L635,1025.53 L636.5,1021.81 L638,1023.88 L639.5,1021.1 L641,1025.15 L642.5,1021.32 L644,1021.34 L645.5,1016.67 L647,1016.02 L648.5,1012.3 L650,1011.81 L651.5,1006.98 L653,1008 L654.5,1002 L656,1000.8 L657.5,995.09 L659,993.62 L660.5,988.52 L662,988.64 L663.5,985.59 L665,986.06 L666.5,982.02 L668,984.47 L669.5,978.67 L671,977.07 L672.5,972.04 L674,972.09 L675.5,966 L677,966.61 L678.5,962.31 L680,962.2 L681.5,956.16 L683,953.14 L684.5,944.01 L686,940.88 L687.5,934.65 L689,935.31 L690.5,931.81 L692,933.67 L693.5,930 L695,929.59 L696.5,925.66 L698,924.5 L699.5,919.53 L701,918.43 L702.5,912.49 L704,914.65 L705.5,910.34 L707,912.24 L708.5,907.51 L710,908.2 L711.5,897.33 L713,891.64 L714.5,887.15 L716,888.94 L717.5,883.13 L719,885.88 L720.5,881.21 L722,882.6 L723.5,878.97 L725,879.72 L726.5,875.69 L728,876.7 L729.5,871.45 L731,869.34 L732.5,864.8 L734,865.75 L735.5,862.42 L737,863.34 L738.5,858.91 L740,860.51 L741.5,856.3 L743,857.61 L744.5,854.41 L746,854.77 L747.5,849.54 L749,852.16 L750.5,848.69 L752,852.62 L753.5,849 L755,851.91 L756.5,848.23 L758,850.93 L759.5,845.11 L761,848.41 L762.5,843.31 L764,844.31 L765.5,842.17 L767,847.33 L768.5,847.03 L770,849.35 L771.5,848.04 L773,853.06 L774.5,848.48 L776,852.08 L777.5,850.25 L779,853.85 L780.5,850.51 L782,853.6 L783.5,849.95 L785,852.93 L786.5,850.62 L788,853.82 L789.5,851.07 L791,855.73 L792.5,853.96 L794,858.05 L795.5,857.11 L797,861.2 L798.5,858.11 L800,863.72 L801.5,862.04 L803,865.88 L804.5,862.8 L806,867.02 L807.5,864.44 L809,867.57 L810.5,864.71 L812,868.44 L813.5,868.13 L815,872.27 L816.5,870.86 L818,874.59 L819.5,873.99 L821,878.65 L822.5,877.02 L824,879.1 L825.5,877.85 L827,883.62 L828.5,880.78 L830,884.67 L831.5,883.74 L833,887.38 L834.5,886.46 L836,890.66 L837.5,888.55 L839,892.94 L840.5,890.15 L842,895 L843.5,892.75 L845,896.74 L846.5,895.52 L848,896.91 L849.5,894.01 L851,895.94 L852.5,892.81 L854,895.36 L855.5,892.59 L857,897.12 L858.5,895.83 L860,900.47 L861.5,899.96 L863,903.02 L864.5,898.79 L866,902.24 L867.5,895.93 L869,901.24 L870.5,899.88 L872,904.19 L873.5,903.46 L875,906.32 L876.5,904.2 L878,905.67 L879.5,904.04 L881,906.24 L882.5,901.74 L884,905.49 L885.5,904.35 L887,907.22 L888.5,907.75 L890,910.7 L891.5,911.01 L893,914.52 L894.5,909.4 L896,912.84 L897.5,911.07 L899,915.72 L900.5,916.27 L902,922.42 L903.5,922.89 L905,924.24 L906.5,918.55 L908,919.92 L909.5,913.38 L911,916.46 L912.5,915.24 L914,919.18 L915.5,916.68 L917,921.16 L918.5,919.09 L920,923.05 L921.5,921.03 L923,924.97 L924.5,918.89 L926,920.56 L927.5,913.27 L929,914.37 L930.5,914.38 L932,918.24 L933.5,918.73 L935,919.48 L936.5,916.64 L938,916.74 L939.5,914.27 L941,916.45 L942.5,910.15 L944,915.78 L945.5,913.63 L947,918.44 L948.5,915.52 L950,919.44 L951.5,916.1 L953,917.03 L954.5,911.74 L956,911.8 L957.5,908.67 L959,913.47 L960.5,910.17 L962,913.98 L963.5,911.25 L965,913.66 L966.5,911.9 L968,915.4 L969.5,914.35 L971,919.16 L972.5,916.5 L974,920.19 L975.5,916.47 L977,914.31 L978.5,907.13 L980,909.67 L981.5,907.19 L983,912.35 L984.5,911.05 L986,915.06 L987.5,914.11 L989,914.82 L990.5,911.31 L992,915.12 L993.5,910.64 L995,914.5 L996.5,911.96 L998,914.04 L999.5,913.54 L1001,916.42 L1002.5,914.45 L1004,916.73 L1005.5,912.38 L1007,912.59 L1008.5,909.11 L1010,909.64 L1011.5,907.32 L1013,908.3 L1014.5,904.7 L1016,906.53 L1017.5,904.55 L1019,908.4 L1020.5,908.61 L1022,913.32 L1023.5,913.76 L1025,913.84 L1026.5,909.94 L1028,909.94 L1029.5,905.33 L1031,908.08 L1032.5,904.34 L1034,908.8 L1035.5,906.53 L1037,907.84 L1038.5,904.8 L1040,905.57 L1041.5,900.13 L1043,900.98 L1044.5,896.11 L1046,900.46 L1047.5,899.35 L1049,902.98 L1050.5,902.55 L1052,907.37 L1053.5,905.96 L1055,908.7 L1056.5,902.93 L1058,904.25 L1059.5,898.15 L1061,900.72 L1062.5,898.68 L1064,901.33 L1065.5,897.89 L1067,900.15 L1068.5,901.1 L1070,905.47 L1071.5,907.43 L1073,911.52 L1074.5,906.88 L1076,907.37 L1077.5,903.69 L1079,904.34 L1080.5,899.63 L1082,901.92 L1083.5,901.43 L1085,904.55 L1086.5,903.31 L1088,905.48 L1089.5,899.57 L1091,896.02 L1092.5,890.19 L1094,897.6 L1095.5,899.55 L1097,907.19 L1098.5,909.23 L1100,917.71 L1101.5,918.18 L1103,923.59 L1104.5,921.83 L1106,927.27 L1107.5,926.91 L1109,940.74 L1110.5,944.61 L1112,943.57 L1113.5,937.91 L1115,936.72 L1116.5,939.07 L1118,950.42 L1119.5,956.22 L1121,956.81 L1122.5,950.16 L1124,951.94 L1125.5,944.15 L1127,948.07 L1128.5,951.08 L1130,958.36 L1131.5,961.14 L1133,964.02 L1134.5,962.5 L1136,964.18 L1137.5,962.07 L1139,967.53 L1140.5,964.59 L1142,967.63 L1143.5,964.87 L1145,969.84 L1146.5,972.88 L1148,980.46 L1149.5,981.96 L1151,990.08 L1152.5,992.51 L1154,1001.33 L1155.5,1003.99 L1157,1008.78 L1158.5,1008.06 L1160,1012.3 L1161.5,1011.21 L1163,1015.93 L1164.5,1015.54 L1166,1022.64 L1167.5,1023.89 L1169,1029.29 L1170.5,1030.57 L1172,1038.3 L1173.5,1040.58 L1175,1048.2 L1176.5,1051.11 L1178,1061.56 L1179.5,1062.18 L1181,1065.63 L1182.5,1066.14 L1184,1071.68 L1185.5,1073.09 L1187,1081.31 L1188.5,1084.14 L1190,1090.21 L1191.5,1090.64 L1193,1094.73 L1194.5,1093.84 L1196,1098.23 L1197.5,1096.77 L1199,1101.18 L1200.5,1097.75 L1202,1100.92 L1203.5,1099.83 L1205,1104.76 L1206.5,1105.74 L1208,1112.45 L1209.5,1112.42 L1211,1118.86 L1212.5,1117.78 L1214,1123.51 L1215.5,1121.78 L1217,1126.48 L1218.5,1125.66 L1220,1130.28 L1221.5,1129.35 L1223,1133.07 L1224.5,1131.56 L1226,1134.59 L1227.5,1134.65 L1229,1138.16 L1230.5,1136.55 L1232,1140.58 L1233.5,1140.01 L1235,1142.03 L1236.5,1139.75 L1238,1141.06 L1239.5,1139.1 L1241,1140.34 L1242.5,1137.08 L1244,1141.87 L1245.5,1138.73 L1247,1141.87 L1248.5,1139.52 L1250,1140.74 L1251.5,1137.53 L1253,1140.25 L1254.5,1137.63 L1256,1140.05 L1257.5,1136.78 L1259,1140.02 L1260.5,1136.82 L1262,1139.1 L1263.5,1138.5 L1265,1140.84 L1266.5,1136.25 L1268,1136.89 L1269.5,1131.44 L1271,1132.69 L1272.5,1128.81 L1274,1130.42 L1275.5,1127.31 L1277,1129.3 L1278.5,1125.44 L1280,1127.96 L1281.5,1122.88 L1283,1125.52 L1284.5,1119.3 L1286,1122.33 L1287.5,1118.08 L1289,1120.18 L1290.5,1114.23 L1292,1116.13 L1293.5,1111.76 L1295,1112.2 L1296.5,1107.39 L1298,1107.94 L1299.5,1105.46 L1301,1105.76 L1302.5,1103.56 L1304,1104.78 L1305.5,1099.42 L1307,1101.32 L1308.5,1097.76 L1310,1098.68 L1311.5,1094.21 L1313,1097.47 L1314.5,1093.22 L1316,1093.76 L1317.5,1088.83 L1319,1092.81 L1320.5,1087.26 L1322,1089.81 L1323.5,1084.76 L1325,1085.92 L1326.5,1083.88 L1328,1083.93 L1329.5,1079.49 L1331,1081.25 L1332.5,1075.28 L1334,1078.56 L1335.5,1073.91 L1337,1075.64 L1338.5,1072.18 L1340,1072.81 L1341.5,1068.46 L1343,1071.87 L1344.5,1067.69 L1346,1070.01 L1347.5,1060.85 L1349,1058.89 L1350.5,1053.57 L1352,1056.57 L1353.5,1051.79 L1355,1053.38 L1356.5,1051.01 L1358,1050.64 L1359.5,1047.7 L1361,1048.28 L1362.5,1044.54 L1364,1045.15 L1365.5,1040.08 L1367,1042.25 L1368.5,1037.29 L1370,1040.58 L1371.5,1036.37 L1373,1037.25 L1374.5,1034.33 L1376,1035.61 L1377.5,1031.62 L1379,1034.2 L1380.5,1029.26 L1382,1030.27 L1383.5,1024.4 L1385,1027.94 L1386.5,1023.78 L1388,1023.35 L1389.5,1019.37 L1391,1021.31 L1392.5,1018.04 L1394,1018.99 L1395.5,1015.89 L1397,1016.17 L1398.5,1010.79 L1400,1012.12 L1401.5,1006.22 L1403,1007.89 L1404.5,1006.29 L1406,1007.41 L1407.5,1004.9 L1409,1005.59 L1410.5,1002.2 L1412,1002.26 L1413.5,996.88 L1415,998.54 L1416.5,992.18 L1418,993.13 L1419.5,989.33 L1421,989.05 L1422.5,984.91 L1424,985.34 L1425.5,977.02 L1427,977.02 L1428.5,969.5 L1430,972.54 L1431.5,966.55 L1433,968.98 L1434.5,965.21 L1436,965.67 L1437.5,960.43 L1439,960.89 L1440.5,955.23 L1442,956.34 L1443.5,952.42 L1445,951.98 L1446.5,947.32 L1448,946.63 L1449.5,941.49 L1451,942.88 L1452.5,939.67 L1454,940.32 L1455.5,937.71 L1457,938.73 L1458.5,934.64 L1460,934.98 L1461.5,931.07 L1463,933.34 L1464.5,925.71 L1466,927.79 L1467.5,923.34 L1469,924.99 L1470.5,920.7 L1472,922.21 L1473.5,917.36 L1475,918.53 L1476.5,913.98 L1478,914.86 L1479.5,909.87 L1481,912.12 L1482.5,907.88 L1484,909.43 L1485.5,906.41 L1487,907.82 L1488.5,904.33 L1490,906.74 L1491.5,905.36 L1493,907.43 L1494.5,903.56 L1496,906.43 L1497.5,900.44 L1499,902.93 L1500.5,897.63 L1502,898.61 L1503.5,897.63 L1505,898.94 L1506.5,897.72 L1508,899.59 L1509.5,898.81 L1511,899.98 L1512.5,896.85 L1514,897.95 L1515.5,895.41 L1517,897.37 L1518.5,895.52 L1520,898.35 L1521.5,897.74 L1523,899.96 L1524.5,900.22 L1526,900.89 L1527.5,899.68 L1529,900.97 L1530.5,900.36 L1532,901.53 L1533.5,900.55 L1535,901.43 L1536.5,901.61 L1538,902.32 L1539.5,902.04 L1541,903.17 L1542.5,902.42 L1544,903.56 L1545.5,903.27 L1547,905.08 L1548.5,904.88 L1550,906.21 L1551.5,905.73 L1553,907.81 L1554.5,907.53 L1556,909.15 L1557.5,909.22 L1559,910.69 L1560.5,910.95 L1562,913.09 L1563.5,913.03 L1565,914.65 L1566.5,914.76 L1568,916.03 L1569.5,915.54 L1571,917.26 L1572.5,916.96 L1574,918.07 L1575.5,917.97 L1577,918.74 L1578.5,918.08 L1580,919.17 L1581.5,918.7 L1583,919.69 L1584.5,918.81 L1586,920.04 L1587.5,919.52 L1589,920.62 L1590.5,920.33 L1592,921.47 L1593.5,920.81 L1595,921.77 L1596.5,921.11 L1598,922.18 L1599.5,921.72 L1601,922.66 L1602.5,920.83 L1604,921.89 L1605.5,920.5 L1607,921.86 L1608.5,921.02 L1610,923.96 L1611.5,924 L1613,927.82 L1614.5,925.92 L1616,928.73 L1617.5,926.83 L1619,929.42 L1620.5,928.68 L1622,932.39 L1623.5,930.67 L1625,935.31 L1626.5,932.93 L1628,935.57 L1629.5,932.17 L1631,935.19 L1632.5,935.93 L1634,939.12 L1635.5,940.52 L1637,942.85 L1638.5,941.17 L1640,946.18 L1641.5,944.7 L1643,946.12 L1644.5,946.14 L1646,950.68 L1647.5,946.84 L1649,951.52 L1650.5,949.69 L1652,955.06 L1653.5,955.64 L1655,959.14 L1656.5,957.02 L1658,960.91 L1659.5,958.67 L1661,963.61 L1662.5,963.52 L1664,967.32 L1665.5,966.03 L1667,971.93 L1668.5,968.27 L1670,973.53 L1671.5,971.85 L1673,973.97 L1674.5,972.39 L1676,973.78 L1677.5,970.85 L1679,973.88 L1680.5,973.09 L1682,977.72 L1683.5,976.49 L1685,982.67 L1686.5,978.98 L1688,982.51 L1689.5,979.34 L1691,982.71 L1692.5,978.77 L1694,981.58 L1695.5,980.18 L1697,985.53 L1698.5,982.63 L1700,985.39 L1701.5,983.7 L1703,986.09 L1704.5,982.31 L1706,986.1 L1707.5,983.81 L1709,987.25 L1710.5,986.81 L1712,992.18 L1713.5,991.27 L1715,993.26 L1716.5,989.12 L1718,991.85 L1719.5,989.02 L1721,993.07 L1722.5,991.75 L1724,995.37 L1725.5,995.25 L1727,998.48 L1728.5,994.47 L1730,995.67 L1731.5,993.67 L1733,996.73 L1734.5,992.93 L1736,996.03 L1737.5,992.1 L1739,996.31 L1740.5,993.24 L1742,994.44 L1743.5,991 L1745,993.48 L1746.5,991.36 L1748,996.2 L1749.5,993.95 L1751,997.11 L1752.5,994.91 L1754,998.94 L1755.5,994.51 L1757,996.73 L1758.5,993.92 L1760,993.92 L1761.5,991.41 L1763,994.62 L1764.5,992.58 L1766,995.25 L1767.5,991.95 L1769,994.89 L1770.5,993.17 L1772,993.48 L1773.5,990.85 L1775,993.25 L1776.5,990.7 L1778,993.42 L1779.5,992.74 L1781,997.18 L1782.5,992.68 L1784,994.11 L1785.5,991.26 L1787,991.91 L1788.5,989.18 L1790,993.33 L1791.5,991.09 L1793,993.44 L1794.5,990.43 L1796,992.87 L1797.5,988.99 L1799,992.52 L1800.5,988.68 L1802,992.64 L1803.5,989.32 L1805,993.72 L1806.5,991.26 L1808,994.59 L1809.5,993.1 L1811,996.01 L1812.5,993.04 L1814,995.83 L1815.5,991.43 L1817,995.72 L1818.5,990.87 L1820,995.4 L1821.5,990.83 L1823,995.84 L1824.5,993.03 L1826,994.21 L1827.5,992.29 L1829,995.88 L1830.5,992.19 L1832,993.72 L1833.5,991.08 L1835,993.83 L1836.5,990.51 L1838,992.27 L1839.5,991.57 L1841,993.36 L1842.5,991.43 L1844,993.99 L1845.5,991.8 L1847,992.77 L1848.5,989.98 L1850,993.78 L1851.5,991.28 L1853,994.07 L1854.5,990.68 L1856,994.89 L1857.5,991.1 L1859,995.33 L1860.5,991.94 L1862,994.2 L1863.5,991.23 L1865,992.9 L1866.5,990.08 L1868,994.05 L1869.5,989.78 L1871,990.75 L1872.5,988.09 L1874,991.16 L1875.5,987 L1877,988.92 L1878.5,988.52 L1880,991.49" fill="none" stroke="#0072C3" stroke-width="10.3" stroke-linejoin="round"/>
<g fill="#404040"><text x="151.7" y="1233.8" text-anchor="end">-0.6</text><text x="151.7" y="1154.63" text-anchor="end">-0.4</text><text x="151.7" y="1075.47" text-anchor="end">-0.2</text><text x="154" y="996.3" text-anchor="end">0</text><text x="154" y="917.13" text-anchor="end">0.2</text><text x="154" y="837.97" text-anchor="end">0.4</text><text x="154" y="758.8" text-anchor="end">0.6</text><text x="171.3" y="1279.2" text-anchor="middle">0</text><text x="512.7" y="1279.2" text-anchor="middle">1</text><text x="854.1" y="1279.2" text-anchor="middle">2</text><text x="1195.5" y="1279.2" text-anchor="middle">3</text><text x="1536.9" y="1279.2" text-anchor="middle">4</text><text x="1878.3" y="1279.2" text-anchor="middle">5</text></g>
<text transform="translate(55.8,979.6) rotate(-90)" text-anchor="middle" fill="#404040" letter-spacing="-0.54">Error (Deg)</text>
<text x="1024.4" y="722.8" text-anchor="middle" fill="#000" letter-spacing="-0.7">(b)</text>
</g>
<g>
<g fill="none" stroke="#222222"><path d="M173,1817.62 H1880" stroke-width="3.5" stroke-dasharray="4.2 9.373" stroke-dashoffset="7.22"/><path d="M173,1758.25 H1880" stroke-width="3.5" stroke-dasharray="4.2 9.373" stroke-dashoffset="7.22"/><path d="M173,1698.88 H1880" stroke-width="3.5" stroke-dasharray="4.2 9.373" stroke-dashoffset="7.22"/><path d="M173,1639.5 H1880" stroke-width="3.5" stroke-dasharray="4.2 9.373" stroke-dashoffset="7.22"/><path d="M173,1580.12 H1880" stroke-width="3.5" stroke-dasharray="4.2 9.373" stroke-dashoffset="7.22"/><path d="M173,1520.75 H1880" stroke-width="3.5" stroke-dasharray="4.2 9.373" stroke-dashoffset="7.22"/><path d="M173,1461.38 H1880" stroke-width="3.5" stroke-dasharray="4.2 9.373" stroke-dashoffset="7.22"/><path d="M514,1402 V1877" stroke-width="3.9" stroke-dasharray="4 9.573" stroke-dashoffset="3.84"/><path d="M855,1402 V1877" stroke-width="3.9" stroke-dasharray="4 9.573" stroke-dashoffset="3.84"/><path d="M1197,1402 V1877" stroke-width="3.9" stroke-dasharray="4 9.573" stroke-dashoffset="3.84"/><path d="M1538,1402 V1877" stroke-width="3.9" stroke-dasharray="4 9.573" stroke-dashoffset="3.84"/></g>
<path d="M240.88,1877 v-10.6 M240.88,1402 v10.6 M309.16,1877 v-10.6 M309.16,1402 v10.6 M377.44,1877 v-10.6 M377.44,1402 v10.6 M445.72,1877 v-10.6 M445.72,1402 v10.6 M514,1877 v-18.6 M514,1402 v18.6 M582.28,1877 v-10.6 M582.28,1402 v10.6 M650.56,1877 v-10.6 M650.56,1402 v10.6 M718.84,1877 v-10.6 M718.84,1402 v10.6 M787.12,1877 v-10.6 M787.12,1402 v10.6 M855.4,1877 v-18.6 M855.4,1402 v18.6 M923.68,1877 v-10.6 M923.68,1402 v10.6 M991.96,1877 v-10.6 M991.96,1402 v10.6 M1060.24,1877 v-10.6 M1060.24,1402 v10.6 M1128.52,1877 v-10.6 M1128.52,1402 v10.6 M1196.8,1877 v-18.6 M1196.8,1402 v18.6 M1265.08,1877 v-10.6 M1265.08,1402 v10.6 M1333.36,1877 v-10.6 M1333.36,1402 v10.6 M1401.64,1877 v-10.6 M1401.64,1402 v10.6 M1469.92,1877 v-10.6 M1469.92,1402 v10.6 M1538.2,1877 v-18.6 M1538.2,1402 v18.6 M1606.48,1877 v-10.6 M1606.48,1402 v10.6 M1674.76,1877 v-10.6 M1674.76,1402 v10.6 M1743.04,1877 v-10.6 M1743.04,1402 v10.6 M1811.32,1877 v-10.6 M1811.32,1402 v10.6 M173,1862.16 h10.6 M1880,1862.16 h-10.6 M173,1847.31 h10.6 M1880,1847.31 h-10.6 M173,1832.47 h10.6 M1880,1832.47 h-10.6 M173,1817.62 h18.6 M1880,1817.62 h-18.6 M173,1802.78 h10.6 M1880,1802.78 h-10.6 M173,1787.94 h10.6 M1880,1787.94 h-10.6 M173,1773.09 h10.6 M1880,1773.09 h-10.6 M173,1758.25 h18.6 M1880,1758.25 h-18.6 M173,1743.41 h10.6 M1880,1743.41 h-10.6 M173,1728.56 h10.6 M1880,1728.56 h-10.6 M173,1713.72 h10.6 M1880,1713.72 h-10.6 M173,1698.88 h18.6 M1880,1698.88 h-18.6 M173,1684.03 h10.6 M1880,1684.03 h-10.6 M173,1669.19 h10.6 M1880,1669.19 h-10.6 M173,1654.34 h10.6 M1880,1654.34 h-10.6 M173,1639.5 h18.6 M1880,1639.5 h-18.6 M173,1624.66 h10.6 M1880,1624.66 h-10.6 M173,1609.81 h10.6 M1880,1609.81 h-10.6 M173,1594.97 h10.6 M1880,1594.97 h-10.6 M173,1580.12 h18.6 M1880,1580.12 h-18.6 M173,1565.28 h10.6 M1880,1565.28 h-10.6 M173,1550.44 h10.6 M1880,1550.44 h-10.6 M173,1535.59 h10.6 M1880,1535.59 h-10.6 M173,1520.75 h18.6 M1880,1520.75 h-18.6 M173,1505.91 h10.6 M1880,1505.91 h-10.6 M173,1491.06 h10.6 M1880,1491.06 h-10.6 M173,1476.22 h10.6 M1880,1476.22 h-10.6 M173,1461.38 h18.6 M1880,1461.38 h-18.6 M173,1446.53 h10.6 M1880,1446.53 h-10.6 M173,1431.69 h10.6 M1880,1431.69 h-10.6 M173,1416.84 h10.6 M1880,1416.84 h-10.6" fill="none" stroke="#222222" stroke-width="3.4"/>
<path d="M173,1877.6 V1402 H1880 V1877 H172.1" fill="none" stroke="#222222" stroke-width="7.8" stroke-linejoin="miter"/>
<path d="M173,1653.69 L174.2,1682.03 L180.22,1657.68 L181.77,1668.71 L188.38,1664.35 L189.6,1668.71 L193.7,1663.47 L194.94,1668.25 L198.91,1660.35 L200.39,1670.04 L206.91,1653.69 L208.39,1663.37 L213.5,1657.68 L215.12,1670.04 L219.63,1658.63 L220.99,1665.76 L225.53,1655.02 L227.08,1666.04 L230.86,1647.02 L232.41,1658.04 L236.28,1649.88 L237.65,1657.19 L241.62,1651.02 L242.97,1658.04 L247.02,1649.97 L248.24,1654.43 L252.25,1645.69 L253.67,1654.05 L257.64,1647.26 L258.93,1653.14 L262.94,1647.02 L264.29,1654.05 L268.31,1646.86 L269.58,1652.21 L273.57,1644.36 L274.99,1652.71 L279.11,1646.54 L280.11,1646.54 L284.44,1647.1 L285.45,1647.31 L289.73,1647.02 L290.81,1648.72 L296.38,1646.06 L297.49,1648.34 L302.99,1644.36 L304.21,1648.72 L308.29,1647.02 L309.57,1652.71 L313.68,1645.59 L314.84,1648.81 L318.95,1641.69 L320.23,1647.38 L324.29,1643.33 L325.55,1648.41 L329.54,1643.02 L330.96,1651.38 L337.6,1637.69 L338.89,1643.39 L342.9,1635.03 L344.25,1642.05 L348.25,1635.36 L349.57,1641.73 L353.36,1631.03 L355.11,1646.05 L358.79,1633.7 L360.34,1644.72 L363.57,1631.98 L364.89,1638.44 L368.12,1625.7 L369.67,1636.72 L374.25,1632.11 L375.53,1637.64 L380.28,1636.36 L381.5,1640.72 L385.54,1629.53 L386.9,1636.89 L390.74,1621.7 L392.36,1634.06 L396.86,1627.51 L398.23,1634.91 L402.73,1628.37 L404.35,1640.72 L409.36,1617.7 L411.05,1631.39 L414.72,1618.59 L416.35,1631.17 L419.73,1612.37 L422.01,1638.05 L427.66,1603.05 L430.06,1635.39 L433.15,1610.4 L435.23,1632.03 L438.48,1612.37 L440.57,1634.06 L443.77,1608.6 L445.94,1631.84 L448.99,1603.05 L451.39,1631.39 L455.77,1612.37 L457.92,1635.39 L460.52,1611.78 L462.5,1631.32 L465,1605.71 L467.35,1632.72 L472.97,1595.05 L475.37,1628.73 L481.13,1604.38 L483.21,1626.06 L488.96,1572.4 L491.36,1630.06 L496.96,1583.06 L499.36,1631.39 L502.29,1590.36 L504.69,1619.42 L507.62,1585.72 L510.02,1619.4 L512.95,1584.63 L515.35,1613.16 L518.31,1581.72 L520.66,1608.74 L525.19,1584.04 L527.1,1602.43 L531.61,1572.4 L534.01,1610.07 L536.94,1560.81 L539.34,1612.33 L542.27,1543.08 L544.67,1620.73 L547.6,1545.74 L550,1620.73 L555.6,1567.06 L558,1612.73 L560.93,1572.36 L563.33,1601.44 L566.26,1563.07 L568.66,1604.74 L571.68,1571.52 L573.89,1595.62 L576.92,1564.4 L579.32,1602.07 L581.58,1562.41 L583.98,1592.07 L586.25,1540.41 L588.65,1602.07 L592.91,1559.07 L595.31,1607.4 L599.57,1540.41 L601.97,1594.08 L606.23,1553.74 L608.63,1595.41 L610.9,1547.3 L613.3,1581.19 L615.56,1524.42 L617.96,1583.42 L620.23,1536.68 L622.63,1597.15 L624.89,1540.41 L627.29,1619.4 L630.22,1519.09 L632.62,1615.4 L635.55,1479.11 L637.95,1594.08 L643.55,1524.42 L645.95,1592.75 L651.54,1529.75 L653.94,1575.42 L656.21,1532.14 L658.61,1566.37 L660.87,1513.76 L663.27,1578.09 L666.34,1512.15 L668.74,1567.71 L671.8,1495.1 L674.2,1572.76 L677.13,1493.77 L679.53,1567.43 L685.13,1505.76 L687.53,1567.43 L690.46,1513.76 L692.86,1580.75 L698.45,1519.09 L700.85,1556.76 L706.45,1519.09 L708.85,1559.43 L714.44,1509.76 L716.84,1562.1 L719.77,1524.42 L722.17,1570.09 L724.44,1525.59 L726.84,1562.92 L729.1,1517.76 L731.5,1564.76 L735.77,1535.08 L738.17,1576.75 L743.76,1536.41 L746.16,1578.09 L750.42,1511.09 L752.82,1579.42 L757.09,1545.74 L759.49,1578.09 L763.75,1523.09 L766.15,1583.42 L769.08,1551.07 L771.48,1600.74 L774.41,1551.07 L776.81,1583.42 L781.08,1552.41 L783.48,1588.75 L789.3,1567.06 L791.25,1586.08 L794.06,1569 L795.81,1584.15 L798.49,1564.4 L800.71,1588.75 L802.69,1577.73 L804.51,1594.08 L809.32,1576.39 L811.2,1594.08 L816.25,1593.72 L817.6,1600.74 L824.28,1595.05 L825.56,1600.74 L832.37,1607.04 L833.46,1608.74 L837.74,1610.42 L838.75,1610.69 L843.08,1613.22 L844.08,1613.22 L848.2,1604.38 L849.62,1612.73 L854.37,1599.05 L856.77,1636.72 L859.7,1605.71 L862.1,1651.38 L866.36,1599.05 L868.76,1636.72 L871.69,1617.7 L874.09,1650.05 L878.41,1616.37 L880.7,1642.05 L885.02,1620.37 L887.42,1650.05 L890,1630.11 L891.77,1645.64 L894.44,1628.37 L896.66,1652.71 L899.68,1636.36 L902.08,1672.7 L907.67,1616.37 L910.07,1666.04 L914.34,1647.02 L916.74,1694.02 L919.84,1649.58 L921.9,1670.81 L925.02,1636.36 L927.37,1663.37 L930.33,1647.02 L932.73,1694.02 L936.99,1647.02 L939.39,1676.7 L944.99,1655.02 L947.39,1698.02 L952.98,1640.36 L955.38,1702.02 L958.31,1657.68 L960.71,1707.35 L964.98,1659.02 L967.38,1690.03 L969.64,1663.78 L972.04,1693.92 L974.31,1651.02 L976.71,1715.35 L982.3,1673.67 L984.7,1703.35 L986.3,1679.01 L988.7,1719.34 L994.29,1672.34 L996.69,1706.02 L998.96,1676.42 L1001.36,1707.94 L1003.62,1673.67 L1006.02,1716.68 L1008.29,1682.63 L1010.69,1711.72 L1012.95,1680.34 L1015.35,1718.01 L1019.61,1679.01 L1022.01,1744.66 L1026.28,1676.34 L1028.68,1727.34 L1034.27,1692.33 L1036.67,1731.34 L1040.94,1667.01 L1043.34,1727.34 L1048.93,1695 L1051.33,1752.66 L1056.93,1679.01 L1059.33,1740.67 L1061.59,1695.58 L1063.99,1734.09 L1066.26,1693.66 L1068.66,1746 L1071.59,1695.01 L1073.99,1738.66 L1076.92,1684.34 L1079.32,1743.33 L1084.91,1700.33 L1087.31,1752.66 L1090.24,1659.02 L1092.64,1751.33 L1094.24,1700.33 L1096.64,1780.65 L1102.24,1709.66 L1104.64,1775.31 L1108.9,1668.34 L1111.3,1785.98 L1114.23,1664.35 L1116.63,1785.98 L1118.23,1673.67 L1120.63,1821.96 L1123.56,1655.02 L1125.96,1796.64 L1130.22,1700.33 L1132.62,1785.98 L1136.89,1688.33 L1139.29,1775.31 L1144.88,1710.99 L1147.28,1783.31 L1151.54,1737.64 L1153.94,1777.98 L1159.54,1721.65 L1161.94,1772.65 L1167.54,1737.64 L1169.94,1769.98 L1171.8,1732.31 L1174.2,1799.3 L1177.13,1726.98 L1179.53,1796.64 L1183.79,1718.98 L1186.19,1787.31 L1188.46,1727.68 L1190.86,1778.62 L1193.12,1717.65 L1195.52,1788.64 L1201.12,1706.99 L1203.52,1769.98 L1206.45,1734.98 L1208.85,1775.31 L1214.44,1730.98 L1216.84,1771.32 L1222.44,1713.65 L1224.84,1768.65 L1229.1,1708.32 L1231.5,1753.99 L1235.77,1701.66 L1238.17,1746 L1241.1,1716.32 L1243.5,1746 L1249.12,1709.66 L1251.47,1736.67 L1257.31,1705.66 L1259.26,1724.68 L1263.75,1692.33 L1266.15,1723.34 L1268.77,1697.69 L1270.46,1711.32 L1273.54,1696.33 L1275.02,1706.02 L1278.7,1688.33 L1280.52,1704.69 L1286.96,1685.67 L1288.25,1691.36 L1295.1,1677.85 L1296.1,1677.85 L1300.4,1672.45 L1301.47,1673.92 L1305.62,1665.68 L1306.9,1671.37 L1313.68,1664.35 L1314.83,1667.37 L1318.12,1654.24 L1319.72,1666.15 L1322.44,1641.69 L1324.73,1667.37 L1327.37,1641.2 L1329.13,1656.54 L1331.87,1632.36 L1333.96,1654.05 L1339.8,1629.7 L1342.02,1654.05 L1346.37,1608.38 L1348.77,1652.71 L1354.37,1613.71 L1356.77,1656.71 L1359.92,1609.71 L1361.88,1628.73 L1366.39,1599.05 L1368.74,1626.06 L1373.12,1604.38 L1375.33,1628.73 L1379.75,1599.05 L1382.03,1624.73 L1386.35,1583.06 L1388.75,1623.4 L1393.02,1560.4 L1395.42,1623.4 L1401.01,1572.4 L1403.41,1615.4 L1406.34,1571.06 L1408.74,1627.39 L1411.67,1567.06 L1414.07,1599.41 L1418.49,1577.73 L1420.58,1599.41 L1423.67,1564.4 L1426.07,1602.07 L1429,1573.73 L1431.4,1614.07 L1435.95,1572.4 L1437.77,1588.75 L1441.08,1573.73 L1443.3,1598.08 L1447.65,1560.4 L1450.05,1598.08 L1452.98,1567.06 L1455.38,1607.4 L1458.31,1559.07 L1460.71,1603.41 L1465.1,1564.4 L1467.25,1587.42 L1473.1,1567.06 L1475.25,1590.08 L1481.23,1576.39 L1483.11,1594.08 L1485.99,1581.67 L1487.68,1595.46 L1490.55,1583.06 L1492.44,1600.74 L1498.38,1575.06 L1500.6,1599.41 L1506.58,1591.05 L1508.4,1607.4 L1513.08,1584.39 L1515.23,1607.4 L1519.74,1591.05 L1521.89,1614.07 L1528.07,1597.72 L1529.55,1607.4 L1532.85,1602.48 L1534.1,1607.31 L1537.56,1605.71 L1538.71,1608.74 L1545.53,1611.04 L1546.74,1615.4 L1552.23,1617.19 L1553.37,1619.91 L1558.92,1623.03 L1560,1624.73 L1564.27,1622.45 L1565.31,1623.31 L1569.61,1621.7 L1570.63,1622.06 L1572.41,1622.09 L1573.59,1625.58 L1577.97,1624.82 L1579.06,1626.53 L1583.49,1626.69 L1584.58,1628.34 L1588.06,1627.23 L1589.2,1630.09 L1592.62,1627.61 L1593.84,1632.02 L1598.94,1629.44 L1600.39,1638.45 L1605.49,1626.69 L1606.71,1631.1 L1610.42,1630.36 L1612.82,1658.68 L1616.86,1623.93 L1619.26,1655.01 L1621.58,1635.88 L1623.72,1658.68 L1627.08,1633.12 L1629.26,1656.84 L1632.64,1642.32 L1634.73,1664.2 L1640.27,1642.32 L1641.81,1653.17 L1645.77,1645.08 L1647.35,1656.84 L1653.17,1652.43 L1654.67,1662.36 L1660.57,1650.59 L1661.98,1658.68 L1665.77,1654.27 L1667.81,1675.23 L1672.5,1653.35 L1673.95,1662.36 L1678.48,1651.51 L1680.85,1678.91 L1685.82,1646.92 L1688.22,1686.27 L1691.34,1643.24 L1693.74,1673.4 L1696.96,1654.27 L1699.15,1677.99 L1704.43,1650.59 L1706.39,1669.72 L1711.57,1646.92 L1713.97,1701.9 L1718,1640.48 L1720.4,1691.79 L1724.44,1646.92 L1726.84,1696.38 L1729.96,1642.32 L1732.36,1691.79 L1735.51,1659.79 L1737.83,1686.27 L1740.33,1660.16 L1742.21,1677.62 L1744.67,1648.75 L1747.07,1680.75 L1752.02,1652.43 L1754.42,1694.54 L1759.42,1654.27 L1761.74,1680.75 L1766.93,1661.63 L1768.94,1681.67 L1772.27,1651.51 L1774.64,1678.91 L1779.61,1656.11 L1782.01,1686.27 L1786.05,1646.92 L1788.45,1680.75 L1792.48,1654.27 L1794.88,1685.35 L1799.84,1645.08 L1802.24,1684.43 L1805.42,1661.63 L1807.69,1687.19 L1812.71,1649.67 L1815.11,1685.35 L1820.52,1668.98 L1822.02,1678.91 L1825.97,1668.98 L1827.6,1681.67 L1833.37,1665.31 L1834.91,1676.15 L1838.95,1664.67 L1840.37,1673.11 L1844.36,1660.71 L1845.99,1673.4 L1849.96,1664.72 L1851.42,1673.98 L1855.48,1667.14 L1856.93,1676.15 L1862.91,1663.47 L1864.22,1669.72 L1870.13,1652.43 L1871.72,1664.2 L1875.53,1646 L1877.35,1662.36 L1879.28,1654.27 L1880,1689.95" fill="none" stroke="#0072C3" stroke-width="10.3" stroke-linejoin="round"/>
<g fill="#404040"><text x="151.7" y="1894.8" text-anchor="end">-8</text><text x="151.7" y="1835.42" text-anchor="end">-6</text><text x="151.7" y="1776.05" text-anchor="end">-4</text><text x="151.7" y="1716.67" text-anchor="end">-2</text><text x="153.4" y="1657.3" text-anchor="end">0</text><text x="153.4" y="1597.92" text-anchor="end">2</text><text x="153.4" y="1538.55" text-anchor="end">4</text><text x="153.4" y="1479.17" text-anchor="end">6</text><text x="153.4" y="1419.8" text-anchor="end">8</text><text x="171.3" y="1940.2" text-anchor="middle">0</text><text x="512.7" y="1940.2" text-anchor="middle">1</text><text x="854.1" y="1940.2" text-anchor="middle">2</text><text x="1195.5" y="1940.2" text-anchor="middle">3</text><text x="1536.9" y="1940.2" text-anchor="middle">4</text><text x="1878.3" y="1940.2" text-anchor="middle">5</text></g>
<text transform="translate(55.8,1642.7) rotate(-90)" text-anchor="middle" fill="#404040" letter-spacing="-0.39">Control Current (A)</text>
<text x="1025" y="1384.4" text-anchor="middle" fill="#000" letter-spacing="-0.7">(c)</text>
</g>
<g>
<rect x="1530" y="432" width="350" height="122" fill="#fff" stroke="#222222" stroke-width="7.8"/>
<path d="M1543,465 H1679" stroke="#0072C3" stroke-width="10" fill="none"/>
<path d="M1543,521 H1679" stroke="#F8520A" stroke-width="10" fill="none" stroke-dasharray="28 26.1"/>
<text x="1689" y="483.4" fill="#000">Target</text>
<text x="1689" y="539.4" fill="#000" letter-spacing="-0.25">Tracking</text>
</g>
<text x="1024.2" y="1999" text-anchor="middle" fill="#404040" letter-spacing="-0.45">Time(s)</text>
</svg>
</body></html>
